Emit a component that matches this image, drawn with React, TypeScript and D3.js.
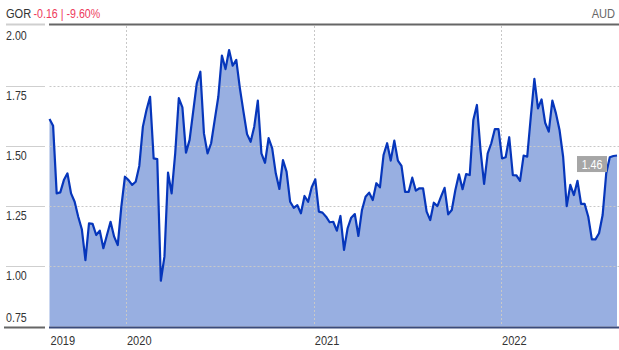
import React from "react";
import * as d3 from "d3";

const ticker = "GOR";
const changeText = "-0.16 | -9.60%";
const currency = "AUD";
const startDate = "2019-08-05";
const yTicks = [0.75, 1.0, 1.25, 1.5, 1.75, 2.0];
const yearTicks = ["2020-01-01", "2021-01-01", "2022-01-01"];
const firstYearLabel = "2019";
const values = [
  1.612, 1.584, 1.303, 1.307, 1.358, 1.386, 1.303, 1.268, 1.206, 1.154,
  1.026, 1.178, 1.176, 1.13, 1.148, 1.075, 1.13, 1.185, 1.123, 1.088,
  1.248, 1.372, 1.358, 1.338, 1.351, 1.417, 1.58, 1.649, 1.704, 1.448,
  1.445, 0.94, 1.04, 1.389, 1.303, 1.469, 1.698, 1.66, 1.472, 1.525,
  1.642, 1.76, 1.808, 1.552, 1.469, 1.511, 1.608, 1.704, 1.875, 1.819,
  1.898, 1.833, 1.857, 1.74, 1.642, 1.549, 1.517, 1.58, 1.688, 1.469,
  1.43, 1.532, 1.49, 1.386, 1.321, 1.441, 1.393, 1.268, 1.243, 1.254,
  1.22, 1.292, 1.268, 1.328, 1.361, 1.227, 1.223, 1.206, 1.183, 1.185,
  1.148, 1.209, 1.068, 1.158, 1.202, 1.217, 1.126, 1.234, 1.289, 1.306,
  1.275, 1.345, 1.328, 1.462, 1.511, 1.439, 1.522, 1.439, 1.417, 1.309,
  1.309, 1.368, 1.314, 1.324, 1.324, 1.227, 1.192, 1.264, 1.25, 1.289,
  1.326, 1.216, 1.234, 1.317, 1.382, 1.32, 1.383, 1.379, 1.608, 1.67,
  1.483, 1.342, 1.469, 1.511, 1.57, 1.57, 1.448, 1.453, 1.536, 1.379,
  1.378, 1.355, 1.46, 1.455, 1.621, 1.778, 1.656, 1.693, 1.596, 1.559,
  1.688, 1.635, 1.566, 1.455, 1.25, 1.338, 1.296, 1.355, 1.259, 1.259,
  1.206, 1.112, 1.112, 1.137, 1.213, 1.386, 1.453, 1.458, 1.46,
];
const lastLabel = "1.46";

const W = 619;
const H = 350;
const FONT = "'Liberation Sans', Arial, sans-serif";
const NARROW = 0.82;

function NText(props: {
  x: number;
  y: number;
  size: number;
  fill: string;
  anchor?: "start" | "middle" | "end";
  children: React.ReactNode;
}) {
  return (
    <text
      transform={`translate(${props.x},${props.y}) scale(${NARROW},1)`}
      fontSize={props.size}
      fill={props.fill}
      textAnchor={props.anchor || "start"}
    >
      {props.children}
    </text>
  );
}

export default function App() {
  const parse = d3.utcParse("%Y-%m-%d");
  const start = parse(startDate) as Date;
  const data = values.map((v, i) => ({ date: d3.utcDay.offset(start, i * 7), v }));
  const x = d3
    .scaleUtc()
    .domain([data[0].date, data[data.length - 1].date])
    .range([49.5, 617]);
  const y = d3.scaleLinear().domain([0.75, 2.0]).range([326.5, 25.5]);

  const area = d3
    .area<{ date: Date; v: number }>()
    .x((d) => x(d.date))
    .y0(y(0.75))
    .y1((d) => y(d.v));
  const line = d3
    .line<{ date: Date; v: number }>()
    .x((d) => x(d.date))
    .y((d) => y(d.v));

  const last = data[data.length - 1];
  const lastY = y(last.v);

  return (
    <svg
      width={W}
      height={H}
      style={{ position: "absolute", left: 0, top: 0, background: "#fff" }}
      fontFamily={FONT}
    >
      {/* header */}
      <NText x={6} y={18} size={13.5} fill="#333">
        {ticker}
      </NText>
      <NText x={33.5} y={18} size={13} fill="#ee3a5c">
        {changeText}
      </NText>
      <NText x={615} y={18} size={13.5} fill="#666" anchor="end">
        {currency}
      </NText>

      {/* area */}
      <path d={area(data) || ""} fill="#98afe1" />

      {/* gridlines */}
      {yTicks.map((t) =>
        t > 0.75 && t < 2.0 ? (
          <line
            key={"g" + t}
            x1={49.5}
            x2={619}
            y1={Math.round(y(t)) + 0.5}
            y2={Math.round(y(t)) + 0.5}
            stroke="#c8c8c8"
            strokeDasharray="2,2"
          />
        ) : null
      )}
      {yearTicks.map((d) => {
        const xx = Math.round(x(parse(d) as Date)) + 0.5;
        return (
          <line
            key={"v" + d}
            x1={xx}
            x2={xx}
            y1={26}
            y2={326}
            stroke="#c8c8c8"
            strokeDasharray="2,2"
          />
        );
      })}

      {/* line */}
      <path d={line(data) || ""} fill="none" stroke="#0636bb" strokeWidth={2.2} strokeLinejoin="round" />

      {/* y-axis label tick lines */}
      {yTicks.map((t) =>
        t > 0.75 && t < 2.0 ? (
          <line
            key={"t" + t}
            x1={6}
            x2={45}
            y1={Math.round(y(t)) + 0.5}
            y2={Math.round(y(t)) + 0.5}
            stroke="#cfcfcf"
          />
        ) : null
      )}
      {/* top border */}
      <line x1={6} x2={45} y1={24.5} y2={24.5} stroke="#cfcfcf" strokeWidth={2} />
      <line x1={49} x2={619} y1={24.5} y2={24.5} stroke="#666" strokeWidth={2} />
      {/* bottom border */}
      <line x1={4} x2={45} y1={327.5} y2={327.5} stroke="#666" strokeWidth={2} />
      <line x1={49} x2={619} y1={327.5} y2={327.5} stroke="#3a4a7a" strokeWidth={2} />

      {/* y labels */}
      {yTicks.map((t) => (
        <NText
          key={"l" + t}
          x={6}
          y={t === 0.75 ? y(t) - 5 : y(t) + 14}
          size={13}
          fill="#333"
        >
          {d3.format(".2f")(t)}
        </NText>
      ))}

      {/* x labels */}
      <NText x={x(data[0].date) + 1} y={345} size={13.5} fill="#333">
        {firstYearLabel}
      </NText>
      {yearTicks.map((d) => (
        <NText key={"x" + d} x={x(parse(d) as Date) + 1} y={345} size={13.5} fill="#333">
          {d.slice(0, 4)}
        </NText>
      ))}

      {/* last value label */}
      <rect x={577} y={lastY + 0.5} width={30} height={16} fill="#a6a6a6" />
      <NText x={592} y={lastY + 13} size={13} fill="#fff" anchor="middle">
        {lastLabel}
      </NText>
    </svg>
  );
}
